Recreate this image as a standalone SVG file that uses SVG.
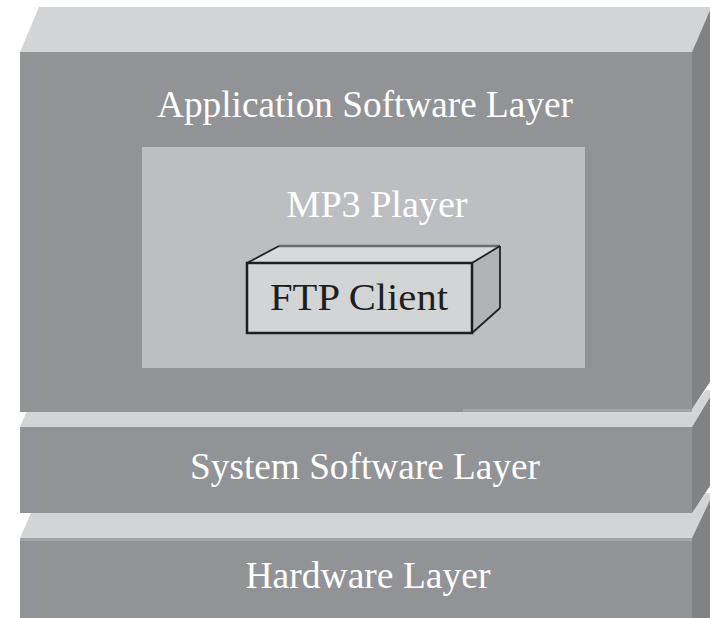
<svg xmlns="http://www.w3.org/2000/svg" width="710" height="618" viewBox="0 0 710 618">
<style>
.front{fill:#929397}
.top{fill:#d3d4d6}
.side{fill:#818286}
.seam{fill:#a3a4a7}
.lbl{font-family:"Liberation Serif","Times New Roman",serif;font-size:37px;fill:#ffffff;text-anchor:middle}
.dark{fill:#1e1e1e}
</style>
<rect width="710" height="618" fill="#ffffff"/>
<g id="hardware-layer">
<polygon class="top" points="20,538 31,513 690,513 706,493 710,493 710,500 692,538"/>
<rect class="front" x="20" y="538" width="672" height="80"/>
<rect class="seam" x="20" y="538" width="672" height="3"/>
<polygon class="side" points="692,538 710,500 710,618 692,618"/>
<text class="lbl" x="368" y="588" textLength="245" lengthAdjust="spacingAndGlyphs">Hardware Layer</text>
</g>
<g id="system-layer">
<polygon class="top" points="20,427 27,411 690,411 706,390 710,390 710,397 692,427"/>
<rect class="front" x="20" y="427" width="672" height="86"/>
<polygon class="side" points="692,427 710,397 710,486 692,513"/>
<text class="lbl" x="365" y="479" textLength="350" lengthAdjust="spacingAndGlyphs">System Software Layer</text>
</g>
<g id="application-layer">
<polygon class="top" points="20,52 39,7 712,7 692,52"/>
<rect class="front" x="20" y="52" width="672" height="360"/>
<rect class="seam" x="463" y="409" width="229" height="3"/>
<polygon class="side" points="692,52 711,8 710,382 692,409"/>
<text class="lbl" x="365" y="117" textLength="416" lengthAdjust="spacingAndGlyphs">Application Software Layer</text>
</g>
<g id="mp3-player">
<rect x="142" y="147" width="443" height="221" fill="#bdbec2"/>
<text class="lbl" x="377" y="217" textLength="181" lengthAdjust="spacingAndGlyphs">MP3 Player</text>
</g>
<g id="ftp-client">
<polygon points="247,263 279,246 500,246 472,263" fill="#d8d9db"/>
<polygon points="472,263 500,246 500,308 472,333" fill="#b2b3b6"/>
<line x1="279" y1="246" x2="500" y2="246" stroke="#6a6b6e" stroke-width="2.5"/>
<line x1="247" y1="263" x2="279" y2="246" stroke="#222" stroke-width="1.8"/>
<line x1="472" y1="263" x2="500" y2="246" stroke="#222" stroke-width="1.8"/>
<line x1="500" y1="246" x2="500" y2="308" stroke="#222" stroke-width="1.8"/>
<line x1="472" y1="333" x2="500" y2="308" stroke="#222" stroke-width="1.8"/>
<rect x="247" y="263" width="225" height="70" fill="#d3d4d6" stroke="#1e1e1e" stroke-width="2.5"/>
<text class="lbl dark" x="359" y="310" textLength="178" lengthAdjust="spacingAndGlyphs">FTP Client</text>
</g>
<g id="connectors"></g>
</svg>
